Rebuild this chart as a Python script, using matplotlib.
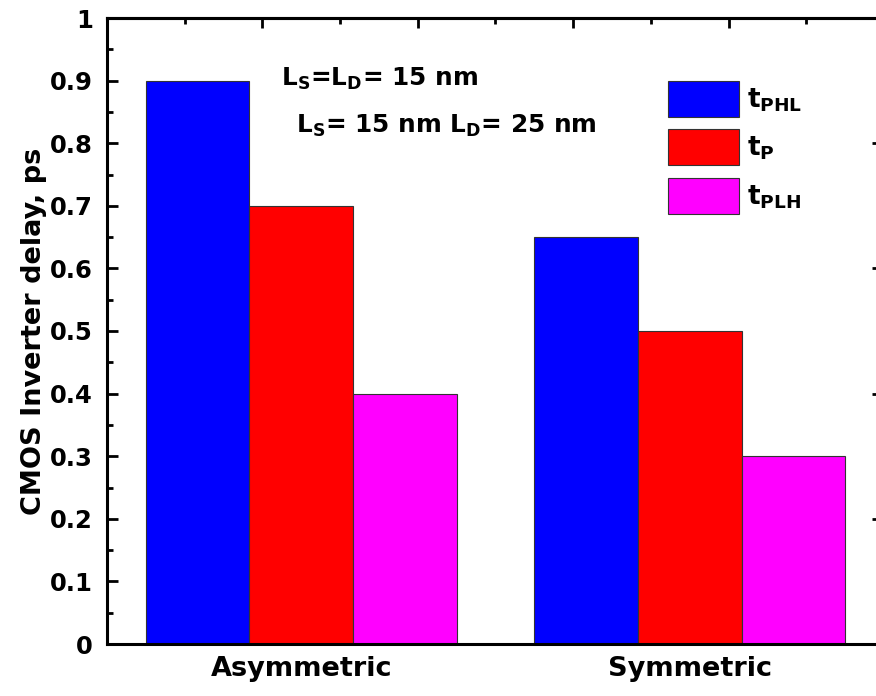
import matplotlib
matplotlib.use("Agg")
import matplotlib.pyplot as plt
import numpy as np
from matplotlib.ticker import MultipleLocator, FixedLocator, NullFormatter

plt.rcParams["font.family"] = ["DejaVu Sans"]
plt.rcParams["font.weight"] = "bold"
plt.rcParams["mathtext.fontset"] = "custom"
plt.rcParams["mathtext.rm"] = "DejaVu Sans:bold"
plt.rcParams["mathtext.it"] = "DejaVu Sans:bold"
plt.rcParams["mathtext.bf"] = "DejaVu Sans:bold"
plt.rcParams["mathtext.default"] = "rm"

categories = ["Asymmetric", "Symmetric"]
series_names = [r"t$_{PHL}$", r"t$_{P}$", r"t$_{PLH}$"]
t_phl = [0.9, 0.65]
t_p = [0.7, 0.5]
t_plh = [0.4, 0.3]
colors = ["#0000ff", "#ff0000", "#ff00ff"]
notes = [r"L$_{S}$=L$_{D}$= 15 nm", r"L$_{S}$= 15 nm L$_{D}$= 25 nm"]

fig = plt.figure(figsize=(8.76, 6.96), dpi=100)
ax = fig.add_axes([107 / 876, 52 / 696, 777 / 876, 626 / 696])

x = np.arange(1, len(categories) + 1)
width = 0.8 / 3
for i, (vals, name) in enumerate(zip([t_phl, t_p, t_plh], series_names)):
    ax.bar(x + (i - 1) * width, vals, width, color=colors[i], edgecolor="#333333",
           linewidth=0.8, label=name, zorder=2)

ax.set_xlim(0.5, 2.5)
ax.set_ylim(0, 1)
ax.set_xticks(x)
ax.set_xticklabels(categories, fontsize=19.5, fontweight="bold")
ax.yaxis.set_minor_locator(MultipleLocator(0.05))
ax.set_yticks(np.arange(0, 1.01, 0.1))
ax.set_yticklabels(["0"] + [f"{v:.1f}" for v in np.arange(0.1, 0.95, 0.1)] + ["1"])
ax.tick_params(axis="y", which="major", direction="in", length=8, width=2, labelsize=17.5, pad=10)
ax.tick_params(axis="y", which="minor", direction="in", length=4, width=2)
ax.tick_params(axis="x", which="major", direction="in", length=8, width=2, pad=9)
for sp in ax.spines.values():
    sp.set_linewidth(2.2)

ax.set_ylabel("CMOS Inverter delay, ps", fontsize=19.5, fontweight="bold")
ax.yaxis.set_label_coords(-0.077, 0.5)

# mirrored axes with their own tick spacing
top = ax.secondary_xaxis("top")
top.xaxis.set_major_locator(FixedLocator([0.9, 1.3, 1.7, 2.1]))
top.xaxis.set_minor_locator(FixedLocator([0.7, 1.1, 1.5, 1.9, 2.3]))
top.xaxis.set_major_formatter(NullFormatter())
top.tick_params(which="major", direction="in", length=7, width=2)
top.tick_params(which="minor", direction="in", length=4, width=2)
top.spines["top"].set_linewidth(2.2)

right = ax.secondary_yaxis("right")
right.yaxis.set_major_locator(MultipleLocator(0.2))
right.yaxis.set_minor_locator(MultipleLocator(0.1))
right.yaxis.set_major_formatter(NullFormatter())
right.tick_params(which="major", direction="in", length=9, width=2)
right.tick_params(which="minor", direction="in", length=5, width=2)
right.spines["right"].set_linewidth(2.2)

fig.text(281 / 876, 1 - 86 / 696, notes[0], fontsize=17.8, fontweight="bold", va="baseline")
fig.text(296 / 876, 1 - 133 / 696, notes[1], fontsize=17.8, fontweight="bold", va="baseline")

ax.legend(loc="upper left", bbox_to_anchor=(668 / 876, 1 - 81 / 696),
          bbox_transform=fig.transFigure, frameon=False, fontsize=19,
          handlelength=2.7, handleheight=1.72, handletextpad=0.3,
          labelspacing=0.47, borderpad=0, borderaxespad=0)

fig.savefig("out.png", dpi=100)
